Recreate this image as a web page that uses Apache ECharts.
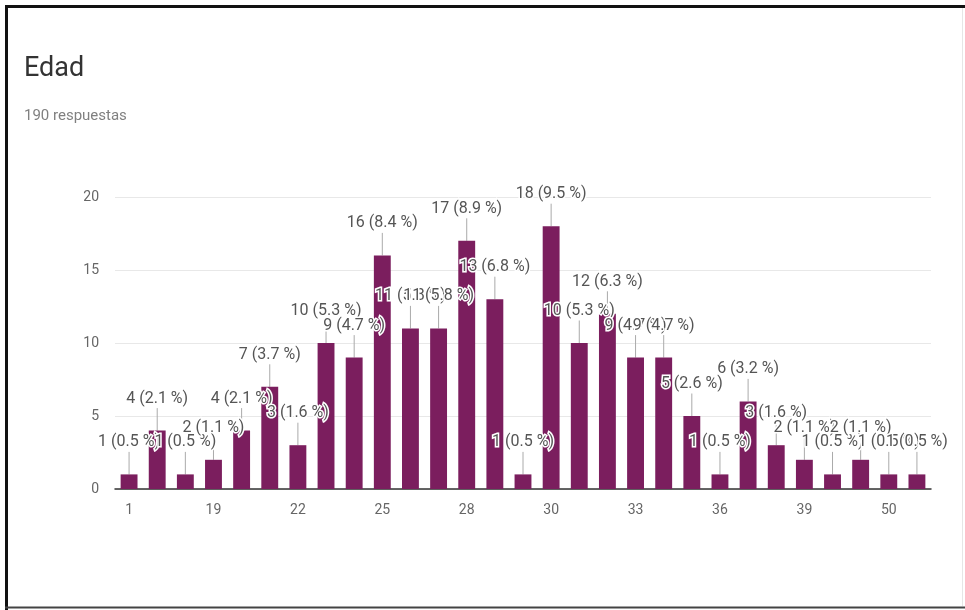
<!DOCTYPE html>
<html>
<head>
<meta charset="utf-8">
<script src="https://cdn.jsdelivr.net/npm/echarts@6/dist/echarts.min.js"></script>
<style>
  html, body { margin: 0; padding: 0; background: #fff; }
  #chart { width: 965px; height: 610px; }
</style>
</head>
<body>
<div id="chart"></div>
<script>
// Edad: respuestas por edad
const ages = ['1', '17', '18', '19', '20', '21', '22', '23', '24', '25',
              '26', '27', '28', '29', '29 años', '30', '31', '32', '33', '34',
              '35', '36', '37', '38', '39', '40', '45', '50', '52'];
const counts = [1, 4, 1, 2, 4, 7, 3, 10, 9, 16,
                11, 11, 17, 13, 1, 18, 10, 12, 9, 9,
                5, 1, 6, 3, 2, 1, 2, 1, 1];
const yTicks = [0, 5, 10, 15, 20];

const total = counts.reduce((a, b) => a + b, 0);
const barColor = '#7b1e5e';

const chart = echarts.init(document.getElementById('chart'), null, { renderer: 'canvas' });

chart.setOption({
  animation: false,
  backgroundColor: '#ffffff',
  textStyle: { fontFamily: 'Roboto, "Noto Sans", sans-serif' },
  title: {
    text: 'Edad',
    subtext: total + ' respuestas',
    left: 19,
    top: 51,
    itemGap: 26,
    textStyle: { fontSize: 27, fontWeight: 'normal', color: '#333333' },
    subtextStyle: { fontSize: 15, color: '#808080' }
  },
  grid: { left: 115, right: 34, top: 197, bottom: 121, containLabel: false },
  xAxis: {
    type: 'category',
    data: ages,
    axisLine: { show: true, lineStyle: { color: '#333333', width: 1.5 } },
    axisTick: { show: false },
    axisLabel: { interval: 2, color: '#666666', fontSize: 14, margin: 14 }
  },
  yAxis: {
    type: 'value',
    min: yTicks[0],
    max: yTicks[yTicks.length - 1],
    interval: yTicks[1] - yTicks[0],
    axisLine: { show: false },
    axisTick: { show: false },
    axisLabel: { color: '#666666', fontSize: 14, margin: 16 },
    splitLine: { lineStyle: { color: '#e8e8e8', width: 1 } }
  },
  series: [{
    type: 'bar',
    data: counts,
    barCategoryGap: '40%',
    itemStyle: { color: barColor },
    label: {
      show: true,
      position: 'top',
      distance: 4,
      color: '#555555',
      fontSize: 16,
      textBorderColor: '#ffffff',
      textBorderWidth: 3,
      formatter: p => p.value + ' (' + (p.value / total * 100).toFixed(1) + ' %)'
    },
    labelLayout: { dy: -20 },
    labelLine: { show: true, lineStyle: { color: '#aaaaaa', width: 1 } }
  }],
  graphic: [
    { type: 'line', shape: { x1: 5, y1: 6.5, x2: 965, y2: 6.5 }, style: { stroke: '#111111', lineWidth: 3 } },
    { type: 'line', shape: { x1: 6.5, y1: 5, x2: 6.5, y2: 610 }, style: { stroke: '#111111', lineWidth: 3 } },
    { type: 'line', shape: { x1: 5, y1: 607.5, x2: 965, y2: 607.5 }, style: { stroke: '#444444', lineWidth: 2 } },
    { type: 'line', shape: { x1: 962.5, y1: 8, x2: 962.5, y2: 606 }, style: { stroke: '#e6e6e6', lineWidth: 1 } }
  ]
});
</script>
</body>
</html>
